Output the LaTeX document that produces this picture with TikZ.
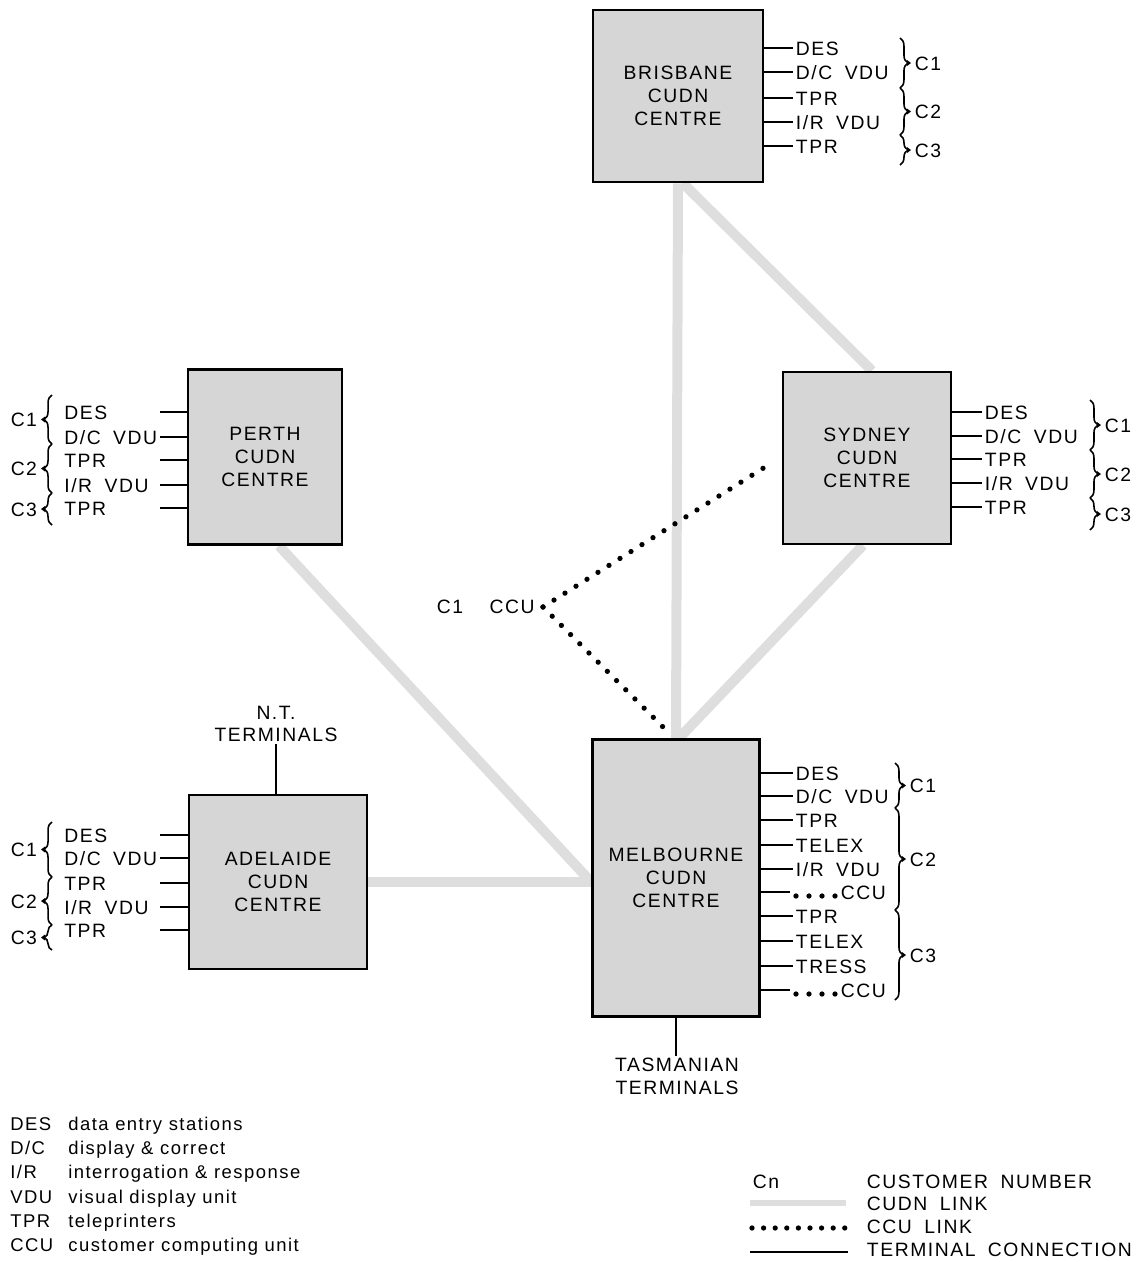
\documentclass[tikz,border=0pt]{standalone}
\usepackage{fontspec}
\setmainfont{Liberation Sans}[LetterSpace=8]
\newfontfamily\termfont{Liberation Sans}[LetterSpace=8, WordSpace=1.8]
\usetikzlibrary{calc, backgrounds, decorations.pathreplacing}
\definecolor{cudnbox}{RGB}{214,214,214}
\definecolor{cudnlink}{RGB}{222,222,222}

\begin{document}
\begin{tikzpicture}[x=0.02cm, y=-0.02cm,
    centre/.style 2 args={draw, line width=1.5pt, fill=cudnbox, minimum width=#1, minimum height=#2, align=center, inner sep=0pt, font=\fontsize{11}{13}\selectfont},
    term/.style={font=\termfont\fontsize{11}{13}\selectfont, inner sep=1.5pt, text height=8pt, text depth=0pt},
    lterm/.style={term, anchor=west, inner sep=0pt},
    tlabel/.style={font=\fontsize{11}{13}\selectfont, align=center, inner sep=1pt},
    leg/.style={font=\fontsize{10.5}{12}\selectfont, anchor=west, inner sep=0pt, text height=8pt, text depth=2pt},
    tline/.style={line width=0.9pt},
    cudn/.style={line width=0.2cm, cudnlink},
    ccu/.style={line width=3pt, line cap=round, dash pattern=on 0pt off 7.4pt},
    cbrace/.style={decorate, decoration={brace, amplitude=4.5pt}, line width=0.9pt}
  ]
    \newcommand{\rterm}[5]{%
      \node[term, anchor=west] (#1) at (#3,#4) {#5};
      \draw[tline] (#2.east |- #1.west) -- (#1.west);
    }
    \newcommand{\lterm}[4]{%
      \node[lterm] (#1) at (64,#3) {#4};
      \coordinate (#1e) at (160,#3);
      \draw[tline] (#1e) -- (#2.west |- #1e);
    }
    \newcommand{\rbr}[5]{% name, x, top, bottom, label
      \draw[cbrace] (#2,#3) -- (#2,#4);
      \fill ($(#2,#3)!0.5!(#2,#4)+(7,-3)$) -- ++(4,3) -- ++(-4,3) -- cycle;
      \node[term, anchor=west] (#1) at ($(#2,#3)!0.5!(#2,#4)+(12,0)$) {#5};
    }
    \newcommand{\lbr}[5]{%
      \draw[cbrace] (#2,#4) -- (#2,#3);
      \fill ($(#2,#3)!0.5!(#2,#4)+(-7,-3)$) -- ++(-4,3) -- ++(4,3) -- cycle;
      \node[term, anchor=east] (#1) at ($(#2,#3)!0.5!(#2,#4)+(-12,0)$) {#5};
    }

    \useasboundingbox (0,0) rectangle (1138,1262);

    % Centres
    \node[centre={3.4cm}{3.44cm}]   (bri) at (678,96)  {BRISBANE\\CUDN\\CENTRE};
    \node[centre={3.08cm}{3.5cm}]   (per) at (265,457) {PERTH\\CUDN\\CENTRE};
    \node[centre={3.36cm}{3.44cm}]  (syd) at (867,458) {SYDNEY\\CUDN\\CENTRE};
    \node[centre={3.56cm}{3.48cm}]  (adl) at (278,882) {ADELAIDE\\CUDN\\CENTRE};
    \node[centre={3.34cm}{5.54cm}]  (mel) at (676,878) {MELBOURNE\\CUDN\\CENTRE};

    % CUDN links
    \coordinate (meljoin) at (adl.east -| mel.west);
    \begin{scope}[on background layer]
      \draw[cudn] (bri.south) -- (mel.north);
      \draw[cudn] ($(bri.south)+(5,0)$) -- ($(syd.north)+(5,0)$);
      \draw[cudn] ($(syd.south)+(-4,0)$) -- ($(mel.north)+(3,0)$);
      \draw[cudn] ($(per.south)+(14,0)$) -- (meljoin);
      \draw[cudn] (adl.east) -- (meljoin);
    \end{scope}

    % Brisbane terminals
    \rterm{bri1}{bri}{793}{48}{DES}
    \rterm{bri2}{bri}{793}{72}{D/C VDU}
    \rterm{bri3}{bri}{793}{98}{TPR}
    \rterm{bri4}{bri}{793}{122}{I/R VDU}
    \rterm{bri5}{bri}{793}{146}{TPR}
    \rbr{bric1}{900}{38}{88}{C1}
    \rbr{bric2}{900}{88}{135}{C2}
    \rbr{bric3}{900}{135}{165}{C3}

    % Sydney terminals
    \rterm{syd1}{syd}{982}{412}{DES}
    \rterm{syd2}{syd}{982}{436}{D/C VDU}
    \rterm{syd3}{syd}{982}{459}{TPR}
    \rterm{syd4}{syd}{982}{483}{I/R VDU}
    \rterm{syd5}{syd}{982}{507}{TPR}
    \rbr{sydc1}{1090}{400}{450}{C1}
    \rbr{sydc2}{1090}{450}{498}{C2}
    \rbr{sydc3}{1090}{498}{530}{C3}

    % Perth terminals
    \lterm{per1}{per}{412}{DES}
    \lterm{per2}{per}{437}{D/C VDU}
    \lterm{per3}{per}{460}{TPR}
    \lterm{per4}{per}{485}{I/R VDU}
    \lterm{per5}{per}{508}{TPR}
    \lbr{perc1}{52}{395}{444}{C1}
    \lbr{perc2}{52}{444}{493}{C2}
    \lbr{perc3}{52}{493}{525}{C3}

    % Adelaide terminals
    \lterm{adl1}{adl}{835}{DES}
    \lterm{adl2}{adl}{858}{D/C VDU}
    \lterm{adl3}{adl}{883}{TPR}
    \lterm{adl4}{adl}{907}{I/R VDU}
    \lterm{adl5}{adl}{930}{TPR}
    \lbr{adlc1}{52}{822}{877}{C1}
    \lbr{adlc2}{52}{877}{925}{C2}
    \lbr{adlc3}{52}{925}{950}{C3}
    \node[tlabel] (nt) at (276,724) {N.T.\\TERMINALS};
    \draw[tline] (nt.south) -- (nt.south |- adl.north);

    % Melbourne terminals
    \rterm{mel1}{mel}{793}{773}{DES}
    \rterm{mel2}{mel}{793}{796}{D/C VDU}
    \rterm{mel3}{mel}{793}{820}{TPR}
    \rterm{mel4}{mel}{793}{845}{TELEX}
    \rterm{mel5}{mel}{793}{869}{I/R VDU}
    \node[term, anchor=west] (mel6) at (838,892) {CCU};
    \coordinate (mel6d) at (790,892);
    \draw[tline] (mel.east |- mel6d) -- (mel6d);
    \draw[ccu] ($(mel6d)+(6,4)$) -- ($(mel6.west)+(-2,4)$);
    \rterm{mel7}{mel}{793}{916}{TPR}
    \rterm{mel8}{mel}{793}{941}{TELEX}
    \rterm{mel9}{mel}{793}{966}{TRESS}
    \node[term, anchor=west] (mel10) at (838,990) {CCU};
    \coordinate (mel10d) at (790,990);
    \draw[tline] (mel.east |- mel10d) -- (mel10d);
    \draw[ccu] ($(mel10d)+(6,4)$) -- ($(mel10.west)+(-2,4)$);
    \rbr{melc1}{895}{763}{808}{C1}
    \rbr{melc2}{895}{808}{910}{C2}
    \rbr{melc3}{895}{910}{1000}{C3}
    \node[tlabel] (tas) at (677,1076) {TASMANIAN\\TERMINALS};
    \draw[tline] (mel.south) -- (mel.south |- tas.north);

    % C1 computing unit
    \node[term] (ccuc) at (450,606) {C1};
    \node[term] (ccu) at (512,606) {CCU};
    \coordinate (hub) at (543,607);
    \coordinate (sydccu) at (765,467);
    \coordinate (melccu) at (663,727);
    \draw[ccu] (hub) -- (sydccu);
    \draw[ccu] (hub) -- (melccu);

    % Abbreviations
    \node[leg] (lgdes) at (10,1125) {DES};  \node[leg] (lgdesx) at (68,1125) {data entry stations};
    \node[leg] (lgdc)  at (10,1149) {D/C};  \node[leg] (lgdcx)  at (68,1149) {display \& correct};
    \node[leg] (lgir)  at (10,1173) {I/R};  \node[leg] (lgirx)  at (68,1173) {interrogation \& response};
    \node[leg] (lgvdu) at (10,1198) {VDU};  \node[leg] (lgvdux) at (68,1198) {visual display unit};
    \node[leg] (lgtpr) at (10,1222) {TPR};  \node[leg] (lgtprx) at (68,1222) {teleprinters};
    \node[leg] (lgccu) at (10,1246) {CCU};  \node[leg] (lgccux) at (68,1246) {customer computing unit};

    % Key
    \node[term, anchor=west] (keycn) at (750,1181) {Cn};
    \node[term, anchor=west] (keycnx) at (864,1181) {CUSTOMER NUMBER};
    \node[term, anchor=west] (keycudn) at (864,1203) {CUDN LINK};
    \node[term, anchor=west] (keyccu) at (864,1226) {CCU LINK};
    \node[term, anchor=west] (keyterm) at (864,1249) {TERMINAL CONNECTION};
    \coordinate (keya) at (750,1203);
    \coordinate (keyb) at (750,1228);
    \coordinate (keyc) at (750,1252);
    \draw[cudn, line width=0.12cm] (keya) -- (keya -| 846,0);
    \draw[ccu, dash pattern=on 0pt off 6.6pt] ($(keyb)+(2,0)$) -- (keyb -| 846,0);
    \draw[tline] (keyc) -- (keyc -| 848,0);
  \end{tikzpicture}
\end{document}
